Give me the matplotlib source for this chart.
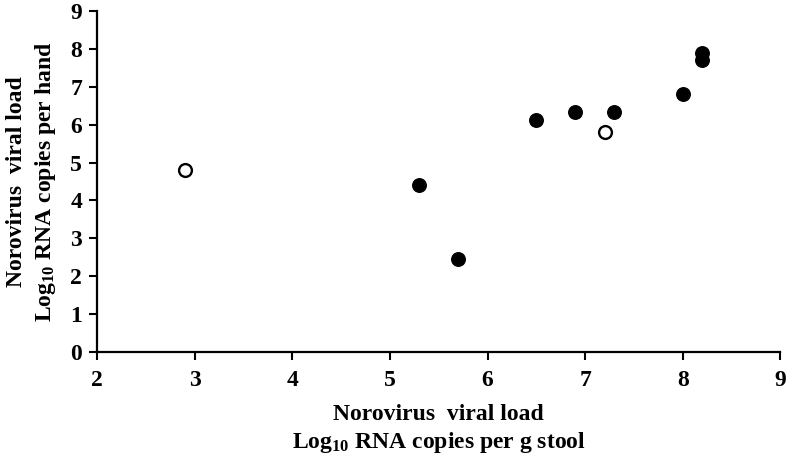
import matplotlib
matplotlib.use("Agg")
import matplotlib.pyplot as plt

# stool viral load vs hand viral load (log10 RNA copies)
filled_x = [5.3, 5.7, 6.5, 6.9, 7.3, 8.0, 8.2, 8.2]
filled_y = [4.4, 2.45, 6.12, 6.33, 6.33, 6.82, 7.9, 7.7]
open_x = [2.9, 7.2]
open_y = [4.8, 5.8]

x_ticks = [2, 3, 4, 5, 6, 7, 8, 9]
y_ticks = [0, 1, 2, 3, 4, 5, 6, 7, 8, 9]

plt.rcParams['font.family'] = 'Liberation Serif'
plt.rcParams['font.weight'] = 'bold'
plt.rcParams['mathtext.fontset'] = 'custom'
plt.rcParams['mathtext.rm'] = 'Liberation Serif:bold'
plt.rcParams['mathtext.it'] = 'Liberation Serif:bold'
plt.rcParams['mathtext.bf'] = 'Liberation Serif:bold'

fig = plt.figure(figsize=(7.89, 4.59), dpi=100)
ax = fig.add_axes([0.1233, 0.233, 0.8657, 0.743])

ax.scatter(filled_x, filled_y, s=95, color='black', edgecolors='black', zorder=3)
ax.scatter(open_x, open_y, s=85, facecolors='white', edgecolors='black', linewidths=1.7, zorder=3)

ax.set_xlim(2, 9)
ax.set_ylim(0, 9)
ax.set_xticks(x_ticks)
ax.set_yticks(y_ticks)
ax.tick_params(labelsize=17, width=1.5, length=6, direction='out')
ax.tick_params(axis='x', pad=7)
ax.tick_params(axis='y', pad=5)
for lab in ax.get_xticklabels() + ax.get_yticklabels():
    lab.set_fontweight('bold')

for side in ['top', 'right']:
    ax.spines[side].set_visible(False)
for side in ['left', 'bottom']:
    ax.spines[side].set_linewidth(1.6)

ax.set_xlabel('Norovirus  viral load\nLog$_{10}$ RNA copies per g stool',
              fontsize=17, fontweight='bold', labelpad=9, linespacing=1.3)
ax.set_ylabel('Norovirus  viral load\nLog$_{10}$ RNA copies per hand',
              fontsize=17, fontweight='bold', labelpad=9, linespacing=1.3)

fig.savefig('out.png', dpi=100)
